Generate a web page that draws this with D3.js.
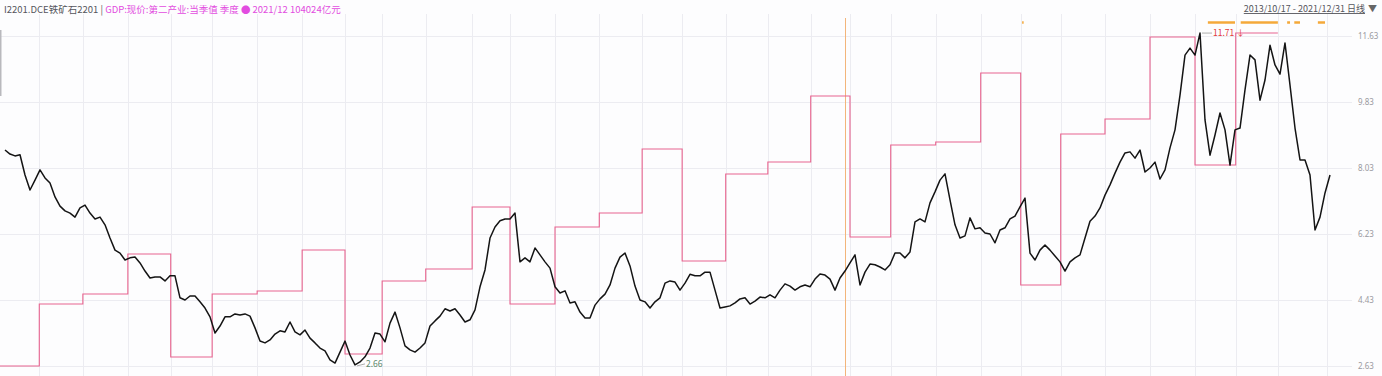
<!DOCTYPE html>
<html>
<head>
<meta charset="utf-8">
<script src="https://cdn.jsdelivr.net/npm/d3@7"></script>
<style>
  html, body { margin: 0; padding: 0; background: #fdfdfe; }
  svg { display: block; font-family: "Noto Sans CJK SC", "Noto Sans", sans-serif; }
</style>
</head>
<body>
<div class="chart"></div>
<script>
const width = 1382;
const height = 376;

// trading day index of each quarter start (vertical grid lines)
const quarterStarts = [48, 109, 172, 232, 290, 353, 416, 476, 528, 589, 654, 707, 770, 832, 892, 948,
  1009, 1068, 1128, 1183, 1240, 1303, 1366, 1422, 1478, 1540, 1603, 1666, 1723, 1782, 1851];

// GDP step series: value holds from start day until the next start day
const gdpStarts = [-7, 48, 109, 172, 232, 290, 353, 416, 476, 528, 589, 654, 707, 770, 832, 892,
  948, 1009, 1068, 1128, 1183, 1240, 1303, 1366, 1422, 1478, 1540, 1603, 1666, 1723];
const gdpEnd = 1782;
const gdpValues = [35000, 47851, 49924, 58215, 36866, 49924, 50546, 59044, 37487, 52619, 55106, 67958,
  47851, 63812, 66714, 79980, 56764, 74798, 77285, 90966, 61739, 80809, 81431, 95733,
  51790, 83089, 86198, 103195, 76663, 104024];

// close price, one reading every 7 trading days
const sampleStep = 7;
const closeValues = [
  8.52, 8.41, 8.36, 8.39, 7.84, 7.43, 7.70, 7.98, 7.76, 7.62,
  7.24, 6.99, 6.86, 6.80, 6.69, 6.94, 7.02, 6.80, 6.64, 6.69,
  6.48, 6.12, 5.79, 5.71, 5.52, 5.58, 5.60, 5.44, 5.22, 5.03,
  5.06, 5.06, 4.95, 5.09, 5.09, 4.49, 4.43, 4.54, 4.54, 4.38,
  4.21, 3.97, 3.53, 3.72, 3.97, 3.97, 4.05, 4.02, 4.05, 3.99,
  3.67, 3.31, 3.26, 3.34, 3.50, 3.59, 3.56, 3.83, 3.56, 3.48,
  3.61, 3.39, 3.26, 3.12, 3.04, 2.80, 2.71, 3.01, 3.31, 2.93,
  2.66, 2.74, 2.88, 3.12, 3.53, 3.50, 3.29, 3.80, 4.10, 3.67,
  3.18, 3.07, 3.01, 3.12, 3.26, 3.72, 3.86, 3.99, 4.19, 4.13,
  4.19, 4.02, 3.83, 3.89, 4.16, 4.79, 5.25, 6.12, 6.42, 6.59,
  6.64, 6.64, 6.80, 5.47, 5.58, 5.47, 5.85, 5.66, 5.47, 5.30,
  4.79, 4.62, 4.68, 4.35, 4.38, 4.10, 3.94, 3.94, 4.29, 4.46,
  4.59, 4.84, 5.30, 5.60, 5.71, 5.36, 4.81, 4.43, 4.38, 4.21,
  4.38, 4.49, 4.89, 4.95, 4.92, 4.70, 4.89, 5.13, 5.09, 5.09,
  5.19, 5.19, 4.70, 4.21, 4.24, 4.27, 4.35, 4.46, 4.49, 4.32,
  4.40, 4.51, 4.49, 4.57, 4.49, 4.70, 4.87, 4.81, 4.70, 4.79,
  4.84, 4.79, 5.00, 5.14, 5.11, 5.00, 4.70, 5.03, 5.22, 5.44,
  5.66, 4.84, 5.19, 5.41, 5.39, 5.33, 5.25, 5.39, 5.71, 5.71,
  5.58, 5.74, 6.56, 6.64, 6.56, 7.08, 7.38, 7.70, 7.87, 7.16,
  6.48, 6.12, 6.18, 6.67, 6.37, 6.40, 6.26, 6.23, 5.99, 6.34,
  6.40, 6.64, 6.72, 6.97, 7.21, 5.71, 5.52, 5.79, 5.93, 5.79,
  5.63, 5.47, 5.22, 5.47, 5.58, 5.66, 6.12, 6.58, 6.72, 6.94,
  7.29, 7.57, 7.89, 8.19, 8.44, 8.47, 8.30, 8.52, 7.92, 8.03,
  8.19, 7.73, 7.98, 8.58, 9.07, 10.02, 11.11, 11.30, 11.11, 11.71,
  9.34, 8.38, 8.93, 9.53, 9.07, 8.11, 9.07, 9.12, 10.16, 11.11,
  10.98, 9.88, 10.43, 11.38, 10.84, 10.59, 11.44, 10.29, 9.12, 8.25,
  8.25, 7.84, 6.34, 6.69, 7.35, 7.84
];

const priceTicks = [2.63, 4.43, 6.23, 8.03, 9.83, 11.63];

// event marks on top strip: [startDay, endDay]
const eventSpans = [[1424, 1425], [1684, 1722], [1730, 1782], [1795, 1799], [1805, 1813], [1838, 1848]];
const cursorDay = 1176;

const titleMain = 'I2201.DCE铁矿石2201 | ';
const titleGdp = 'GDP:现价:第二产业:当季值 季度 ● 2021/12 104024亿元';
const rangeText = '2013/10/17 - 2021/12/31 日线';

let draw = () => {
  const svg = d3.select('.chart').append('svg')
    .attr('width', width)
    .attr('height', height);

  const x = d3.scaleLinear().domain([-7, (closeValues.length - 1) * sampleStep]).range([0, 1330]);
  const y = d3.scaleLinear().domain([2.63, 11.63]).range([366, 36]);
  const yGdp = d3.scaleLinear().domain([35000, 104024]).range([366, 33]);

  // grid
  const grid = svg.append('g').attr('stroke', '#ececf1').attr('stroke-width', 1);
  grid.selectAll('.vgrid').data(quarterStarts).enter().append('line')
    .attr('x1', (d) => { return Math.round(x(d)) + 0.5; })
    .attr('x2', (d) => { return Math.round(x(d)) + 0.5; })
    .attr('y1', 14).attr('y2', height);
  grid.selectAll('.hgrid').data(priceTicks).enter().append('line')
    .attr('x1', 0).attr('x2', 1352)
    .attr('y1', (d) => { return Math.round(y(d)) + 0.5; })
    .attr('y2', (d) => { return Math.round(y(d)) + 0.5; });

  // left scroll marker
  svg.append('rect').attr('x', 0).attr('y', 30).attr('width', 1.5).attr('height', 66).attr('fill', '#b9b9bd');

  // cursor line
  svg.append('rect')
    .attr('x', Math.round(x(cursorDay))).attr('width', 1)
    .attr('y', 18).attr('height', height - 18)
    .attr('fill', '#f3b57a');

  // event marks
  svg.selectAll('.event').data(eventSpans).enter().append('line')
    .attr('x1', (d) => { return x(d[0]); })
    .attr('x2', (d) => { return Math.max(x(d[1]), x(d[0]) + 1.5); })
    .attr('y1', 22.5).attr('y2', 22.5)
    .attr('stroke', '#f4a93a').attr('stroke-width', 2.5);

  // GDP step line
  const gdpPoints = gdpStarts.map((d, i) => { return [d, gdpValues[i]]; });
  gdpPoints.push([gdpEnd, gdpValues[gdpValues.length - 1]]);
  const gdpLine = d3.line()
    .x((d) => { return x(d[0]); })
    .y((d) => { return yGdp(d[1]); })
    .curve(d3.curveStepAfter);
  svg.append('path').attr('d', gdpLine(gdpPoints))
    .attr('fill', 'none').attr('stroke', '#e8648f').attr('stroke-width', 1.1);

  // price line
  const priceLine = d3.line()
    .x((d, i) => { return x(i * sampleStep); })
    .y((d) => { return y(d); });
  svg.append('path').attr('d', priceLine(closeValues))
    .attr('fill', 'none').attr('stroke', '#141414').attr('stroke-width', 1.5)
    .attr('stroke-linejoin', 'round');

  // max / min labels
  const maxIdx = d3.maxIndex(closeValues);
  const minIdx = d3.minIndex(closeValues);
  const mx = x(maxIdx * sampleStep), my = y(closeValues[maxIdx]);
  svg.append('line').attr('x1', mx + 2).attr('x2', mx + 12).attr('y1', my).attr('y2', my)
    .attr('stroke', '#999').attr('stroke-width', 0.8);
  svg.append('text').attr('x', mx + 13).attr('y', my + 3)
    .attr('font-size', 8.5).attr('fill', '#e23b3b')
    .text(d3.format('.2f')(closeValues[maxIdx]) + ' ↓');
  const nx = x(minIdx * sampleStep), ny = y(closeValues[minIdx]);
  svg.append('line').attr('x1', nx + 2).attr('x2', nx + 10).attr('y1', ny + 1).attr('y2', ny - 1)
    .attr('stroke', '#999').attr('stroke-width', 0.8);
  svg.append('text').attr('x', nx + 11).attr('y', ny + 2)
    .attr('font-size', 8.5).attr('fill', '#5d8a6d')
    .text(d3.format('.2f')(closeValues[minIdx]));

  // right axis
  const axis = svg.append('g')
    .attr('transform', 'translate(1356,0)')
    .call(d3.axisRight(y).tickValues(priceTicks).tickSize(0).tickPadding(2).tickFormat(d3.format('.2f')));
  axis.select('.domain').remove();
  axis.selectAll('text').attr('fill', '#9a9aa0').attr('font-size', 8)
    .attr('font-family', '"Noto Sans", sans-serif');

  // header
  const title = svg.append('text').attr('x', 4).attr('y', 13).attr('font-size', 9.5);
  title.append('tspan').attr('fill', '#55555c').text(titleMain);
  title.append('tspan').attr('fill', '#e24ce0').text(titleGdp);

  svg.append('text').attr('x', 1365).attr('y', 12)
    .attr('text-anchor', 'end').attr('font-size', 9).attr('fill', '#55555c')
    .attr('text-decoration', 'underline')
    .text(rangeText);
  svg.append('text').attr('x', 1368).attr('y', 12).attr('font-size', 9).attr('fill', '#666')
    .text('▼');
};

draw();
</script>
</body>
</html>
